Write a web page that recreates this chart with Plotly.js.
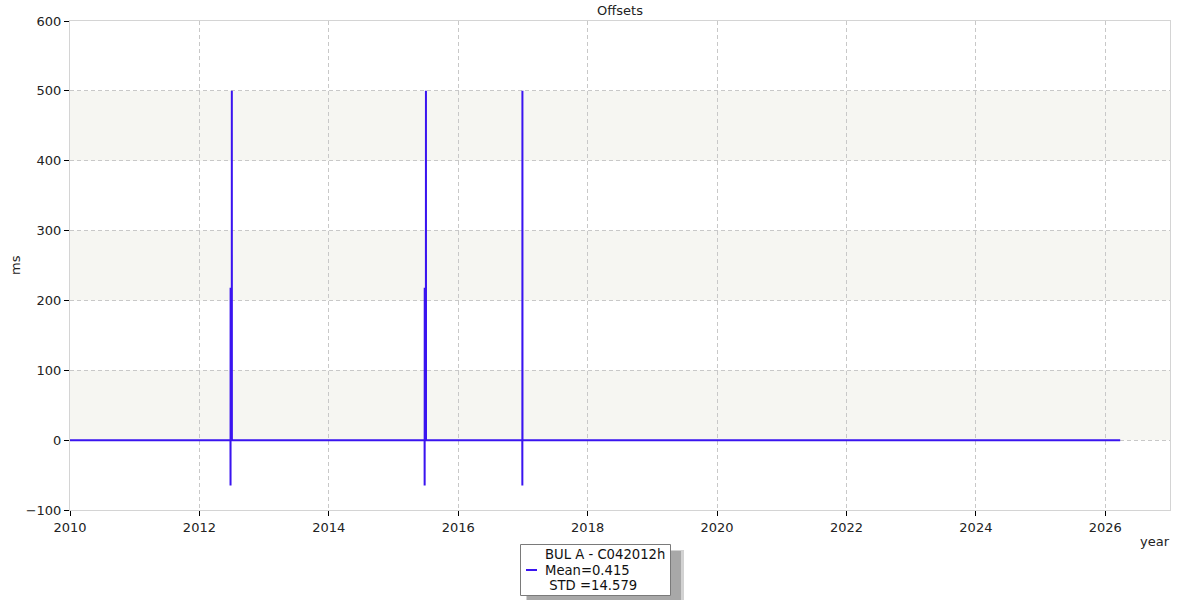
<!DOCTYPE html>
<html>
<head>
<meta charset="utf-8">
<script src="https://cdn.plot.ly/plotly-3.0.1.min.js"></script>
<style>html,body{margin:0;padding:0;background:#fff;}#chart{width:1200px;height:600px;}</style>
</head>
<body>
<div id="chart"></div>
<script>
// decimal years and offsets in ms
const years = [2010.0, 2012.480, 2012.481, 2012.482, 2012.483, 2012.500, 2012.501, 2012.502,
               2015.480, 2015.481, 2015.482, 2015.483, 2015.500, 2015.501, 2015.502,
               2016.990, 2016.991, 2016.992, 2016.993, 2026.23];
const offsets = [0, 0, -65, 218, 0, 0, 500, 0,
                 0, -65, 218, 0, 0, 500, 0,
                 0, -65, 500, 0, 0];
const seriesName = 'BUL A - C042012h';
const legendLines = ['BUL A - C042012h', 'Mean=0.415', '&nbsp;STD =14.579'];
const bands = [[0, 100], [200, 300], [400, 500]];
const xTicks = [2010, 2012, 2014, 2016, 2018, 2020, 2022, 2024, 2026];
const yTicks = [-100, 0, 100, 200, 300, 400, 500, 600];

const W = 1200, H = 600, L = 70, R = 30, T = 21, B = 90;
const pw = W - L - R, ph = H - T - B;
const px = v => (v - L) / pw, py = v => (H - B - v) / ph;
const lineColor = '#3a14f0';

const shapes = bands.map(b => ({
  type: 'rect', xref: 'paper', yref: 'y', x0: 0, x1: 1, y0: b[0], y1: b[1],
  fillcolor: '#f6f6f2', line: {width: 0}, layer: 'below'
}));
// legend box: soft shadow, frame, sample line
shapes.push({type: 'rect', xref: 'paper', yref: 'paper', x0: px(526), x1: px(684), y0: py(550), y1: py(601),
  fillcolor: '#d2d2d2', line: {width: 0}, layer: 'above'});
shapes.push({type: 'rect', xref: 'paper', yref: 'paper', x0: px(527), x1: px(681), y0: py(551), y1: py(600),
  fillcolor: '#a8a8a8', line: {width: 0}, layer: 'above'});
shapes.push({type: 'rect', xref: 'paper', yref: 'paper', x0: px(520.5), x1: px(670.5), y0: py(544.5), y1: py(595.5),
  fillcolor: '#ffffff', line: {color: '#7a7a7a', width: 1}, layer: 'above'});
shapes.push({type: 'line', xref: 'paper', yref: 'paper', x0: px(526), x1: px(537), y0: py(570), y1: py(570),
  line: {color: lineColor, width: 2}, layer: 'above'});

const font = {family: 'DejaVu Sans, Verdana, sans-serif', size: 13, color: '#222'};
const legFont = {family: font.family, size: 13.2, color: '#111'};
const legendAnn = legendLines.map((t, i) => ({
  text: t, xref: 'paper', yref: 'paper', x: px(544), y: py(554.5 + 15.6 * i), xanchor: 'left', yanchor: 'middle',
  align: 'left', valign: 'middle', borderpad: 0, showarrow: false, font: legFont
}));

Plotly.newPlot('chart', [{
  x: years, y: offsets, type: 'scatter', mode: 'lines', name: seriesName,
  line: {color: lineColor, width: 2}, showlegend: false
}], {
  width: W, height: H,
  margin: {l: L, r: R, t: T, b: B, pad: 0, autoexpand: false},
  paper_bgcolor: '#fff', plot_bgcolor: '#fff',
  font: font,
  title: {text: 'Offsets', x: 0.5167, xanchor: 'center', y: 0.982, yanchor: 'middle', font: {family: font.family, size: 13, color: '#222'}},
  xaxis: {range: [2010, 2027], tickvals: xTicks, ticktext: xTicks.map(String), ticks: 'outside', ticklen: 5, tickcolor: '#000',
    showgrid: true, gridcolor: '#c8c8c8', griddash: '4px,3px', zeroline: false, showline: true, linecolor: '#d4d4d4', mirror: true,
    title: {text: ''}},
  yaxis: {range: [-100, 600], tickvals: yTicks, ticktext: yTicks.map(v => v < 0 ? '\u2212' + Math.abs(v) : String(v)), ticks: 'outside', ticklen: 5, tickcolor: '#000',
    showgrid: true, gridcolor: '#c8c8c8', griddash: '4px,3px', zeroline: false, showline: true, linecolor: '#d4d4d4', mirror: true,
    title: {text: ''}},
  shapes: shapes,
  annotations: [
    {text: 'ms', xref: 'paper', yref: 'paper', x: px(15), y: py(265), xanchor: 'center', yanchor: 'middle', textangle: -90, showarrow: false, font: font},
    {text: 'year', xref: 'paper', yref: 'paper', x: px(1155), y: py(541), xanchor: 'center', yanchor: 'middle', showarrow: false, font: font}
  ].concat(legendAnn),
  showlegend: false
}, {displayModeBar: false, staticPlot: true});
</script>
</body>
</html>
